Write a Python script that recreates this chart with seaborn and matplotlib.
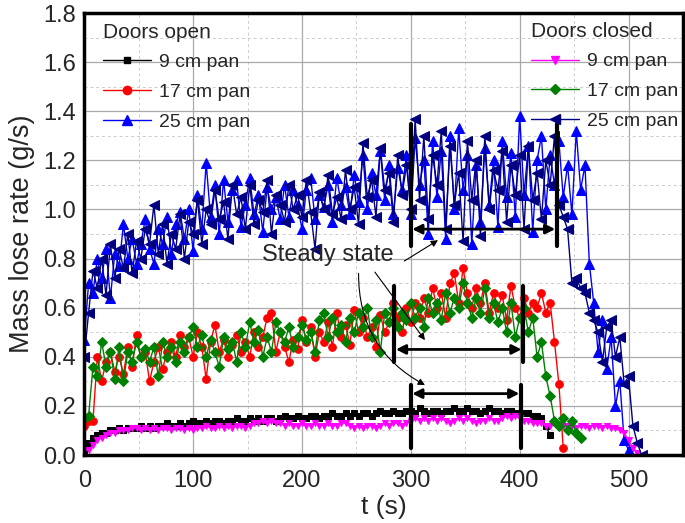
import numpy as np
import pandas as pd
import matplotlib
matplotlib.use("Agg")
import matplotlib.pyplot as plt
from matplotlib.lines import Line2D
import seaborn as sns

dt = 4

# doors open
open_9cm = [0.02, 0.05, 0.07, 0.08, 0.09, 0.09, 0.10, 0.10, 0.11, 0.10, 0.11, 0.11, 0.11, 0.12, 0.11, 0.12,
            0.11, 0.12, 0.12, 0.13, 0.12, 0.12, 0.13, 0.12, 0.13, 0.14, 0.13, 0.13, 0.14, 0.13, 0.14, 0.14,
            0.13, 0.14, 0.14, 0.15, 0.14, 0.14, 0.15, 0.14, 0.15, 0.14, 0.15, 0.15, 0.14, 0.15, 0.16, 0.15,
            0.15, 0.16, 0.15, 0.15, 0.16, 0.16, 0.15, 0.16, 0.16, 0.17, 0.16, 0.16, 0.17, 0.16, 0.17, 0.16,
            0.17, 0.17, 0.16, 0.17, 0.18, 0.17, 0.17, 0.18, 0.17, 0.17, 0.18, 0.18, 0.17, 0.19, 0.18, 0.17,
            0.18, 0.18, 0.17, 0.18, 0.18, 0.19, 0.18, 0.18, 0.19, 0.18, 0.18, 0.17, 0.18, 0.19, 0.18, 0.18,
            0.17, 0.18, 0.18, 0.17, 0.17, 0.17, 0.17, 0.16, 0.16, 0.15, 0.12, 0.08]
open_17cm = [0.12, 0.14, 0.14, 0.40, 0.30, 0.38, 0.42, 0.34, 0.40, 0.33, 0.44, 0.36, 0.49, 0.40, 0.42, 0.30,
             0.38, 0.44, 0.35, 0.42, 0.46, 0.40, 0.49, 0.44, 0.48, 0.40, 0.50, 0.44, 0.31, 0.46, 0.53, 0.42,
             0.47, 0.40, 0.45, 0.49, 0.42, 0.46, 0.40, 0.50, 0.44, 0.48, 0.56, 0.58, 0.42, 0.50, 0.44, 0.38,
             0.47, 0.43, 0.55, 0.46, 0.52, 0.40, 0.50, 0.46, 0.54, 0.44, 0.58, 0.48, 0.53, 0.45, 0.59, 0.50,
             0.56, 0.48, 0.52, 0.44, 0.57, 0.50, 0.54, 0.62, 0.56, 0.50, 0.60, 0.54, 0.62, 0.56, 0.64, 0.58,
             0.68, 0.60, 0.66, 0.56, 0.70, 0.74, 0.62, 0.76, 0.66, 0.60, 0.68, 0.62, 0.70, 0.58, 0.66, 0.60,
             0.65, 0.55, 0.69, 0.60, 0.56, 0.64, 0.58, 0.62, 0.60, 0.66, 0.58, 0.62, 0.46, 0.29, 0.03]
open_25cm = [0.47, 0.70, 0.66, 0.80, 0.72, 0.84, 0.64, 0.82, 0.77, 0.94, 0.80, 0.88, 0.78, 0.86, 0.96, 0.84,
             0.78, 0.92, 0.86, 0.97, 0.82, 0.94, 0.99, 0.88, 1.00, 0.83, 1.06, 0.92, 1.19, 0.97, 1.10, 0.90,
             1.12, 0.95, 1.08, 1.12, 0.93, 1.02, 1.13, 0.98, 1.06, 0.91, 1.09, 1.00, 1.05, 0.96, 1.10, 0.97,
             1.08, 1.02, 0.92, 1.08, 1.13, 0.96, 1.06, 1.01, 1.10, 0.95, 1.13, 1.02, 1.09, 0.98, 1.14, 1.03,
             1.22, 1.00, 1.15, 1.06, 1.24, 1.04, 1.18, 0.98, 1.17, 1.08, 1.22, 0.98, 1.29, 1.10, 1.20, 0.90,
             1.28, 1.05, 1.24, 0.88, 1.30, 1.00, 1.33, 1.08, 1.22, 0.86, 1.18, 0.95, 1.25, 1.02, 1.20, 0.93,
             1.28, 1.05, 1.23, 0.97, 1.38, 1.06, 1.26, 0.91, 1.20, 1.30, 1.00, 1.22, 1.10, 1.28, 1.05, 1.18,
             0.98, 1.32, 1.08, 1.18, 0.78, 0.62, 0.42, 0.55, 0.35, 0.48, 0.20, 0.30, 0.06, 0.02]

# doors closed
closed_9cm = [0.02, 0.02, 0.04, 0.06, 0.07, 0.08, 0.09, 0.09, 0.10, 0.10, 0.10, 0.11, 0.11, 0.10, 0.11, 0.10,
              0.11, 0.10, 0.11, 0.11, 0.10, 0.11, 0.11, 0.10, 0.11, 0.10, 0.11, 0.11, 0.12, 0.11, 0.11, 0.12,
              0.11, 0.12, 0.11, 0.12, 0.12, 0.11, 0.12, 0.13, 0.13, 0.14, 0.13, 0.14, 0.13, 0.13, 0.12, 0.13,
              0.12, 0.12, 0.13, 0.12, 0.12, 0.13, 0.12, 0.12, 0.13, 0.12, 0.12, 0.13, 0.13, 0.12, 0.11, 0.12,
              0.11, 0.12, 0.12, 0.11, 0.12, 0.13, 0.12, 0.13, 0.13, 0.12, 0.13, 0.14, 0.15, 0.14, 0.15, 0.14,
              0.15, 0.14, 0.15, 0.14, 0.13, 0.14, 0.15, 0.14, 0.15, 0.14, 0.13, 0.14, 0.14, 0.15, 0.14, 0.14,
              0.15, 0.16, 0.15, 0.16, 0.15, 0.14, 0.14, 0.13, 0.13, 0.13, 0.12, 0.12, 0.13, 0.12, 0.12, 0.12,
              0.12, 0.11, 0.12, 0.12, 0.11, 0.12, 0.12, 0.11, 0.12, 0.11, 0.11, 0.10, 0.09, 0.06, 0.03, 0.01]
closed_17cm = [0.15, 0.16, 0.36, 0.32, 0.46, 0.36, 0.42, 0.31, 0.44, 0.30, 0.42, 0.38, 0.46, 0.40, 0.43, 0.38,
               0.44, 0.32, 0.46, 0.40, 0.44, 0.38, 0.46, 0.42, 0.48, 0.52, 0.44, 0.49, 0.40, 0.47, 0.42, 0.36,
               0.48, 0.43, 0.46, 0.38, 0.50, 0.44, 0.54, 0.46, 0.51, 0.40, 0.48, 0.42, 0.54, 0.50, 0.46, 0.52,
               0.44, 0.48, 0.53, 0.47, 0.50, 0.42, 0.55, 0.58, 0.48, 0.56, 0.50, 0.53, 0.46, 0.56, 0.50, 0.58,
               0.52, 0.60, 0.48, 0.55, 0.42, 0.58, 0.54, 0.60, 0.52, 0.58, 0.55, 0.62, 0.56, 0.60, 0.52, 0.64,
               0.58, 0.62, 0.55, 0.66, 0.58, 0.64, 0.60, 0.70, 0.62, 0.56, 0.64, 0.58, 0.68, 0.56, 0.62, 0.54,
               0.60, 0.50, 0.62, 0.48, 0.56, 0.60, 0.50, 0.56, 0.40, 0.46, 0.32, 0.24, 0.14, 0.12, 0.15, 0.10,
               0.14, 0.09, 0.07]
closed_25cm = [0.40, 0.58, 0.75, 0.68, 0.80, 0.65, 0.86, 0.72, 0.84, 0.76, 0.90, 0.74, 0.87, 0.80, 0.92, 0.86,
               1.02, 0.82, 0.94, 0.78, 0.90, 0.84, 0.98, 0.80, 0.95, 0.90, 1.04, 0.86, 1.00, 0.94, 1.08, 0.96,
               1.03, 0.88, 1.10, 0.98, 1.05, 0.92, 1.10, 0.94, 1.04, 0.99, 1.12, 0.90, 1.06, 1.02, 0.95, 1.10,
               1.00, 1.06, 0.97, 1.12, 0.99, 0.84, 1.07, 1.00, 1.14, 0.98, 1.05, 0.96, 1.16, 1.00, 1.09, 0.94,
               1.27, 1.05, 1.12, 0.97, 1.25, 1.08, 1.15, 0.95, 1.22, 1.06, 1.18, 1.00, 1.37, 1.04, 1.30, 0.96,
               1.22, 1.10, 1.32, 0.92, 1.26, 1.02, 1.15, 0.87, 1.28, 1.04, 1.20, 0.89, 1.30, 1.00, 1.16, 1.08,
               1.24, 0.95, 1.18, 1.06, 1.22, 0.92, 1.26, 1.04, 1.15, 0.96, 1.20, 1.10, 1.30, 1.02, 0.97, 0.92,
               0.70, 0.72, 0.68, 0.66, 0.58, 0.55, 0.50, 0.38, 0.52, 0.55, 0.40, 0.48, 0.29, 0.32, 0.12, 0.05,
               0.00]

# steady-state windows: (start, end, bracket bottom, bracket top, arrow level)
steady_25 = (300, 434, 0.85, 1.35, 0.92)
steady_17 = (285, 403, 0.38, 0.69, 0.43)
steady_9 = (300, 401, 0.03, 0.285, 0.25)

sns.set_style("white")
plt.rcParams["font.family"] = ["Liberation Sans", "DejaVu Sans"]

fig, ax = plt.subplots(figsize=(6.85, 5.23), dpi=100)
fig.subplots_adjust(left=0.123, right=0.997, bottom=0.13, top=0.975)

series = [
    ("9 cm pan", open_9cm, "black", "s", 4.5),
    ("17 cm pan", open_17cm, "red", "o", 5.5),
    ("25 cm pan", open_25cm, "blue", "^", 6.5),
    ("9 cm pan", closed_9cm, "magenta", "v", 5),
    ("17 cm pan", closed_17cm, "green", "D", 5),
    ("25 cm pan", closed_25cm, "navy", "<", 6.5),
]

handles = []
for label, vals, col, mk, ms in series:
    df = pd.DataFrame({"t": np.arange(len(vals)) * dt, "m": vals})
    sns.lineplot(data=df, x="t", y="m", ax=ax, color=col, marker=mk, markersize=ms,
                 markeredgecolor=col, linewidth=1.0, estimator=None, sort=False)
    handles.append(Line2D([], [], color=col, marker=mk, markersize=ms + 0.5,
                          markeredgecolor=col, linewidth=1.0, label=label))

ax.set_xlim(0, 550)
ax.set_ylim(0, 1.8)
ax.set_xticks(np.arange(0, 501, 100))
ax.set_xticks(np.arange(50, 551, 100), minor=True)
ax.set_yticks(np.arange(0, 1.81, 0.2))
ax.set_yticks(np.arange(0.1, 1.8, 0.2), minor=True)
ax.yaxis.set_major_formatter(matplotlib.ticker.FormatStrFormatter("%.1f"))
ax.grid(which="major", color="#aaaaaa", linewidth=0.9)
ax.grid(which="minor", color="#cccccc", linewidth=0.7, linestyle=(0, (3, 3)))
ax.set_axisbelow(True)
ax.tick_params(which="both", direction="in", width=2, labelsize=17)
ax.tick_params(axis="x", which="both", pad=11)
ax.tick_params(axis="y", which="both", pad=6)
ax.tick_params(which="major", length=6)
ax.tick_params(which="minor", length=4)
for sp in ax.spines.values():
    sp.set_linewidth(2.5)
    sp.set_color("black")

ax.set_xlabel("t (s)", fontsize=19, labelpad=2)
ax.set_ylabel("Mass lose rate (g/s)", fontsize=19.5, labelpad=6)

leg_kw = dict(frameon=False, fontsize=14, title_fontsize=15, handlelength=2.5,
              handletextpad=0.4, labelspacing=0.62, alignment="left", borderaxespad=0.0,
              loc="upper left")
leg1 = ax.legend(handles=handles[:3], title="Doors open",
                 bbox_to_anchor=(0.018, 0.996), **leg_kw)
ax.add_artist(leg1)
ax.legend(handles=handles[3:], title="Doors closed",
          bbox_to_anchor=(0.733, 0.998), **leg_kw)

# steady-state brackets
for x0, x1, yb, yt, ya in (steady_25, steady_17, steady_9):
    ax.plot([x0, x0], [yb, yt], color="black", linewidth=3, zorder=5)
    ax.plot([x1, x1], [yb, yt], color="black", linewidth=3, zorder=5)
    ax.annotate("", xy=(x1, ya), xytext=(x0, ya), zorder=5,
                arrowprops=dict(arrowstyle="<|-|>", lw=2, color="black",
                                mutation_scale=14, shrinkA=1, shrinkB=1))

ax.text(224, 0.814, "Steady state", fontsize=17, ha="center", va="center", zorder=6)
thin = dict(arrowstyle="-|>", lw=0.8, color="black", mutation_scale=10, shrinkA=0, shrinkB=0)
ax.annotate("", xy=(325, 0.875), xytext=(294, 0.79), arrowprops=thin, zorder=6)
ax.annotate("", xy=(313, 0.468), xytext=(267, 0.745), arrowprops=thin, zorder=6)
ax.annotate("", xy=(313, 0.285), xytext=(252, 0.74), zorder=6,
            arrowprops=dict(thin, connectionstyle="arc3,rad=0.3"))

fig.savefig("out.png", dpi=100)
